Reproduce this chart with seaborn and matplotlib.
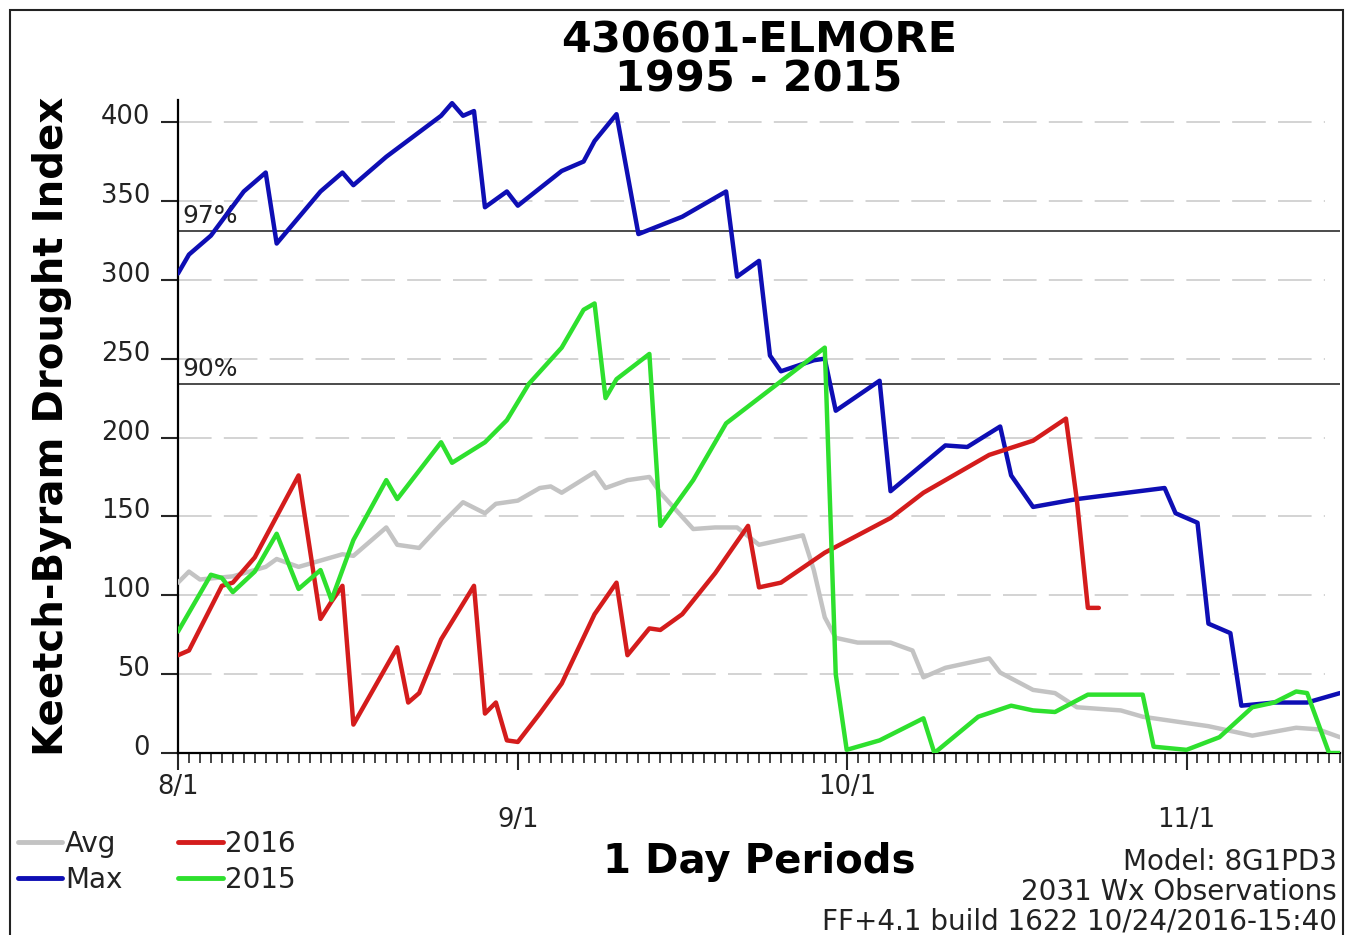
import pandas as pd
import matplotlib.pyplot as plt
import matplotlib.transforms as mtransforms
from matplotlib.lines import Line2D
from matplotlib.patches import Rectangle
from matplotlib.ticker import MultipleLocator
import seaborn as sns

sns.set_style("ticks")
plt.rcParams['font.family'] = ['DejaVu Sans']

# day index: 0 = 8/1, 31 = 9/1, 61 = 10/1, 92 = 11/1
avg_days = [0, 1, 2, 5, 8, 9, 11, 13, 15, 16, 19, 20, 22, 24, 26, 28, 29, 31, 33, 34, 35,
            38, 39, 41, 43, 44, 47, 49, 51, 53, 57, 58, 59, 60, 62, 65, 67, 68, 70, 74, 75,
            78, 80, 82, 86, 88, 91, 94, 98, 102, 104, 106]
avg_vals = [108, 115, 110, 112, 118, 123, 118, 122, 126, 125, 143, 132, 130, 145, 159, 152,
            158, 160, 168, 169, 165, 178, 168, 173, 175, 165, 142, 143, 143, 132, 138, 116,
            86, 73, 70, 70, 65, 48, 54, 60, 51, 40, 38, 29, 27, 23, 20, 17, 11, 16, 15, 10]

max_days = [0, 1, 3, 6, 8, 9, 13, 15, 16, 19, 24, 25, 26, 27, 28, 30, 31, 35, 37, 38, 40,
            42, 46, 50, 51, 53, 54, 55, 58, 59, 60, 64, 65, 70, 72, 75, 76, 78, 82, 90, 91,
            93, 94, 96, 97, 100, 103, 106]
max_vals = [304, 316, 328, 356, 368, 323, 356, 368, 360, 378, 404, 412, 404, 407, 346, 356,
            347, 369, 375, 388, 405, 329, 340, 356, 302, 312, 252, 242, 249, 250, 217, 236,
            166, 195, 194, 207, 176, 156, 161, 168, 152, 146, 82, 76, 30, 32, 32, 38]

y2016_days = [0, 1, 4, 5, 7, 11, 13, 14, 15, 16, 20, 21, 22, 24, 27, 28, 29, 30, 31, 33, 35,
              38, 40, 41, 43, 44, 46, 49, 52, 53, 55, 59, 62, 65, 68, 70, 74, 78, 81, 82, 83, 84]
y2016_vals = [62, 65, 106, 108, 124, 176, 85, 96, 106, 18, 67, 32, 38, 72, 106, 25, 32, 8, 7,
              25, 44, 88, 108, 62, 79, 78, 88, 114, 144, 105, 108, 127, 138, 149, 165, 173,
              189, 198, 212, 160, 92, 92]

y2015_days = [0, 3, 4, 5, 7, 9, 11, 13, 14, 16, 19, 20, 24, 25, 28, 30, 32, 35, 37, 38, 39,
              40, 43, 44, 47, 50, 59, 60, 61, 64, 68, 69, 73, 76, 78, 80, 83, 88, 89, 92, 95,
              98, 100, 102, 103, 105, 106]
y2015_vals = [77, 113, 111, 102, 115, 139, 104, 116, 97, 135, 173, 161, 197, 184, 197, 211,
              234, 257, 281, 285, 225, 237, 253, 144, 173, 209, 257, 50, 2, 8, 22, 0, 23, 30,
              27, 26, 37, 37, 4, 2, 10, 29, 32, 39, 38, 0, 0]

series_names = ["Avg", "Max", "2016", "2015"]
colors = {"Avg": "#c3c3c3", "Max": "#0e0eb4", "2016": "#d41c1c", "2015": "#2ee02e"}
month_ticks = [0, 31, 61, 92]
month_labels = ["8/1", "9/1", "10/1", "11/1"]
pct_levels = [331, 234]
pct_labels = ["97%", "90%"]

frames = []
for name, d, v in zip(series_names,
                      [avg_days, max_days, y2016_days, y2015_days],
                      [avg_vals, max_vals, y2016_vals, y2015_vals]):
    frames.append(pd.DataFrame({"day": d, "kbdi": v, "series": name}))
df = pd.concat(frames, ignore_index=True)

W, H = 1351, 935
fig = plt.figure(figsize=(W / 100, H / 100), dpi=100)
ax = fig.add_axes([178 / W, 1 - 753 / H, (1340 - 178) / W, (753 - 100) / H])

# dashed grid and percentile lines
for yv in range(50, 401, 50):
    ax.axhline(yv, xmax=0.987, color="#c8c8c8", lw=1.1, dashes=(22, 8), zorder=0)
for yv, lab in zip(pct_levels, pct_labels):
    ax.axhline(yv, color="#1a1a1a", lw=1.1, zorder=1)
    ax.text(0.4, yv + 2, lab, fontsize=18, color="#222222", va="bottom", ha="left")

sns.lineplot(data=df, x="day", y="kbdi", hue="series", hue_order=series_names,
             palette=colors, estimator=None, sort=False, linewidth=3.2, ax=ax,
             legend=False, zorder=3)

ax.set_xlim(0, 106)
ax.set_ylim(0, 414)
sns.despine(ax=ax)
for s in ["left", "bottom"]:
    ax.spines[s].set_linewidth(1.6)
    ax.spines[s].set_color("black")

ax.set_yticks(range(0, 401, 50))
ax.tick_params(axis="y", length=12, width=1.5, pad=8, labelsize=18.5, labelcolor="#222222")
up = mtransforms.ScaledTranslation(0, 8 / 100, fig.dpi_scale_trans)
for lab in ax.get_yticklabels():
    lab.set_transform(lab.get_transform() + up)

ax.set_xticks(month_ticks)
ax.set_xticklabels(month_labels)
ax.xaxis.set_minor_locator(MultipleLocator(1))
ax.tick_params(axis="x", which="major", length=12, width=1.5, pad=3, labelsize=18.5,
               labelcolor="#222222")
ax.tick_params(axis="x", which="minor", length=7, width=1.2)
down = mtransforms.ScaledTranslation(0, -33 / 100, fig.dpi_scale_trans)
for i, lab in enumerate(ax.get_xticklabels()):
    if i % 2 == 1:
        lab.set_transform(lab.get_transform() + down)

ax.set_xlabel("1 Day Periods", fontsize=29, fontweight="bold", color="black")
ax.xaxis.set_label_coords(0.5, -(862 - 753) / 653)
ax.xaxis.label.set_va("center")
ax.set_ylabel("Keetch-Byram Drought Index", fontsize=29, fontweight="bold", color="black")
ax.yaxis.set_label_coords(-(178 - 52) / 1162, 0.5)
ax.yaxis.label.set_va("center")

ax.set_title("430601-ELMORE\n1995 - 2015", fontsize=31, fontweight="bold",
             color="black", linespacing=0.88, pad=5)

handles = [Line2D([], [], color=colors[n], lw=3.5) for n in series_names]
fig.legend(handles, series_names, loc="upper left", bbox_to_anchor=(18 / W, 1 - 830 / H),
           ncol=2, frameon=False, fontsize=20, handlelength=1.6, handletextpad=0.1,
           columnspacing=2.0, labelspacing=0.28, borderpad=0, borderaxespad=0,
           labelcolor="#222222")

footer = ["Model: 8G1PD3", "2031 Wx Observations", "FF+4.1 build 1622 10/24/2016-15:40"]
for i, line in enumerate(footer):
    fig.text(1337 / W, 1 - (862 + 30 * i) / H, line, ha="right", va="center",
             fontsize=20, color="#222222")

fig.patches.append(Rectangle((10 / W, -0.1), (1343 - 10) / W, 1.1 - 10 / H,
                             transform=fig.transFigure, fill=False, lw=1.5,
                             edgecolor="#222222"))

fig.savefig("out.png", dpi=100)
